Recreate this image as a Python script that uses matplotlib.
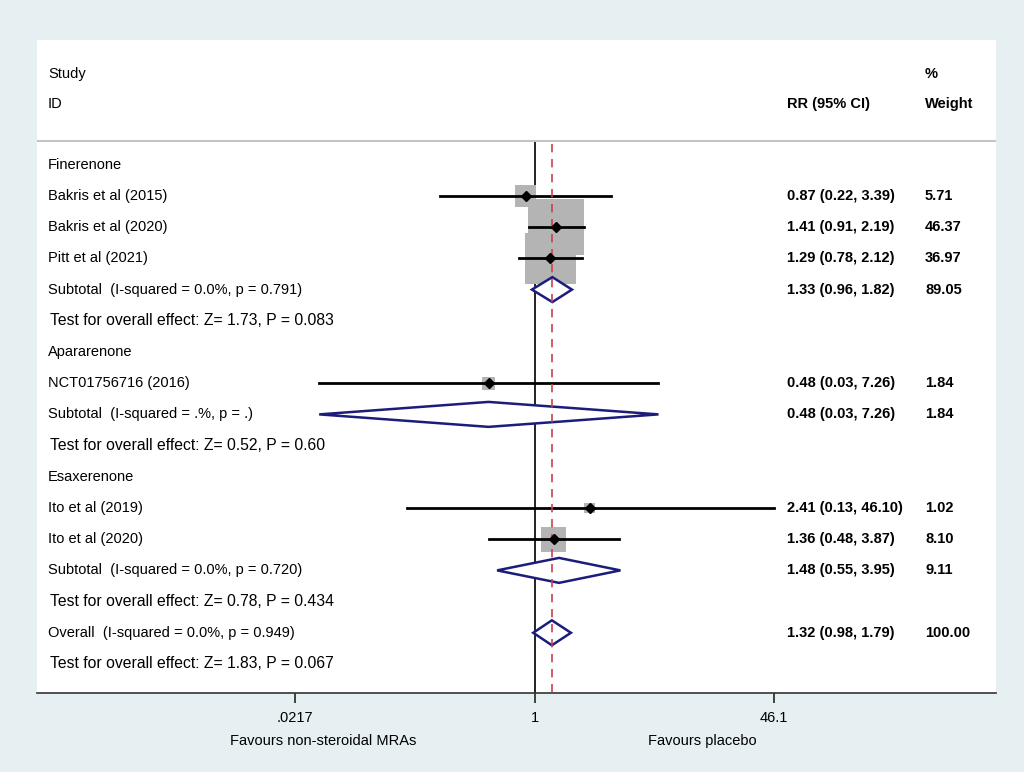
import numpy as np
import matplotlib
matplotlib.use("Agg")
import matplotlib.pyplot as plt
import matplotlib.transforms as mtransforms

plt.rcParams['font.family'] = ['Liberation Sans', 'DejaVu Sans']

# rows of the forest plot, top to bottom
row_labels = ["Finerenone",
              "Bakris et al (2015)",
              "Bakris et al (2020)",
              "Pitt et al (2021)",
              "Subtotal  (I-squared = 0.0%, p = 0.791)",
              "Test for overall effect: Z= 1.73, P = 0.083",
              "Apararenone",
              "NCT01756716 (2016)",
              "Subtotal  (I-squared = .%, p = .)",
              "Test for overall effect: Z= 0.52, P = 0.60",
              "Esaxerenone",
              "Ito et al (2019)",
              "Ito et al (2020)",
              "Subtotal  (I-squared = 0.0%, p = 0.720)",
              "Test for overall effect: Z= 0.78, P = 0.434",
              "Overall  (I-squared = 0.0%, p = 0.949)",
              "Test for overall effect: Z= 1.83, P = 0.067"]
row_kind = ["group", "study", "study", "study", "sub", "test",
            "group", "study", "sub", "test",
            "group", "study", "study", "sub", "test",
            "sub", "test"]
nan = np.nan
rr = [nan, 0.87, 1.41, 1.29, 1.33, nan, nan, 0.48, 0.48, nan,
      nan, 2.41, 1.36, 1.48, nan, 1.32, nan]
lo = [nan, 0.22, 0.91, 0.78, 0.96, nan, nan, 0.032, 0.032, nan,
      nan, 0.13, 0.48, 0.55, nan, 0.98, nan]
hi = [nan, 3.39, 2.19, 2.12, 1.82, nan, nan, 7.26, 7.26, nan,
      nan, 46.10, 3.87, 3.95, nan, 1.79, nan]
weight = [nan, 5.71, 46.37, 36.97, 89.05, nan, nan, 1.84, 1.84, nan,
          nan, 1.02, 8.10, 9.11, nan, 100.00, nan]

pooled = 1.32
xticks = [0.0217, 1, 46.1]
xtick_labels = [".0217", "1", "46.1"]

fig = plt.figure(figsize=(10.24, 7.72), dpi=100)
fig.patch.set_facecolor('#e6f0f3')
ax = fig.add_axes([37/1024, 1-693/772, 959/1024, 653/772])
ax.set_facecolor('white')
ax.set_xscale('log')
ax.set_xlim(np.exp((37-534.5)/62.55), np.exp((996-534.5)/62.55))
y_bot, y_top = 16.93, -4.0
ax.set_ylim(y_bot, y_top)

for s in ['top', 'left', 'right']:
    ax.spines[s].set_visible(False)
ax.spines['bottom'].set_color('#333333')
ax.spines['bottom'].set_linewidth(1.2)
ax.set_yticks([])
ax.set_xticks(xticks)
ax.set_xticklabels(xtick_labels)
ax.xaxis.set_minor_locator(matplotlib.ticker.NullLocator())
ax.tick_params(axis='x', direction='out', length=7, width=1.3,
               color='#333333', labelsize=10.5, pad=6)

fs = 10.5
tr = mtransforms.blended_transform_factory(ax.transAxes, ax.transData)
x_lab, x_rr, x_w = 11/959, 750/959, 888/959
sep = -0.763

# header
ax.text(x_lab, -2.92, "Study", transform=tr, fontsize=fs, va='center')
ax.text(x_lab, -1.955, "ID", transform=tr, fontsize=fs, va='center')
ax.text(x_rr, -1.955, "RR (95% CI)", transform=tr, fontsize=fs,
        va='center', fontweight='bold')
ax.text(x_w, -2.92, "%", transform=tr, fontsize=fs, va='center',
        fontweight='bold')
ax.text(x_w, -1.955, "Weight", transform=tr, fontsize=fs, va='center',
        fontweight='bold')
ax.axhline(sep, color='#c4c4c4', lw=1.5)

# reference lines
ax.plot([1, 1], [sep, y_bot], color='#222222', lw=1.4, zorder=1)
ax.plot([pooled, pooled], [sep + 0.1, y_bot], color='#c8404f', lw=1.2,
        ls=(0, (5, 4)), zorder=4)

for i, kind in enumerate(row_kind):
    if kind == "test":
        ax.text(x_lab + 2/959, i, row_labels[i], transform=tr, fontsize=11.3,
                va='center')
        continue
    ax.text(x_lab, i, row_labels[i], transform=tr, fontsize=fs, va='center')
    if kind == "group":
        continue
    ax.text(x_rr, i, f"{rr[i]:.2f} ({lo[i]:.2f}, {hi[i]:.2f})",
            transform=tr, fontsize=fs, va='center', fontweight='bold')
    ax.text(x_w, i, f"{weight[i]:.2f}", transform=tr, fontsize=fs,
            va='center', fontweight='bold')
    if kind == "study":
        side_px = 8.0*np.sqrt(weight[i]) + 2
        ax.scatter([rr[i]], [i], s=(side_px*0.72)**2, marker='s',
                   color='#b4b4b4', edgecolors='none', zorder=2)
        ax.plot([lo[i], hi[i]], [i, i], color='black', lw=2, zorder=3)
        ax.plot([rr[i]], [i], marker='D', color='black', ms=5.5, zorder=5)
    else:
        h = 0.4
        ax.fill([lo[i], rr[i], hi[i], rr[i], lo[i]],
                [i, i-h, i, i+h, i], facecolor='white',
                edgecolor='#1c1c7c', lw=1.8, zorder=3)

fig.text(323/1024, 1-741/772, "Favours non-steroidal MRAs", fontsize=fs,
         ha='center', va='center')
fig.text(702/1024, 1-741/772, "Favours placebo", fontsize=fs,
         ha='center', va='center')

fig.savefig("out.png", dpi=100, facecolor=fig.get_facecolor())
